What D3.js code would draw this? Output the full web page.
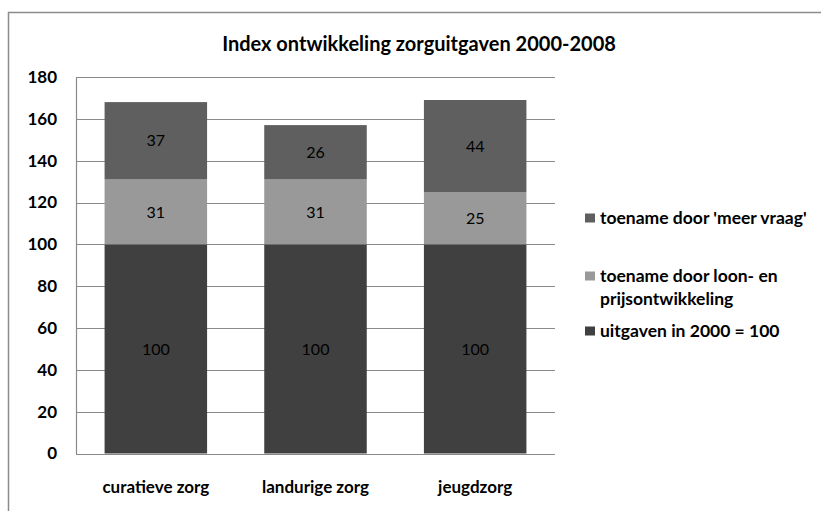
<!DOCTYPE html>
<html>
<head>
<meta charset="utf-8">
<script src="https://cdn.jsdelivr.net/npm/d3@7"></script>
<style>
  body { margin: 0; background: #fff; }
  text { font-family: Lato, "Open Sans", sans-serif; }
</style>
</head>
<body>
<div id="chart"></div>
<script>
// categories and stacked values (index 2000 = 100)
var categories = ["curatieve zorg", "landurige zorg", "jeugdzorg"];
var basis = [100, 100, 100];          // uitgaven in 2000 = 100
var loonPrijs = [31, 31, 25];         // toename door loon- en prijsontwikkeling
var meerVraag = [37, 26, 44];         // toename door 'meer vraag'
var yTicks = [0, 20, 40, 60, 80, 100, 120, 140, 160, 180];

var seriesNames = ["uitgaven in 2000 = 100", "toename door loon- en prijsontwikkeling", "toename door 'meer vraag'"];
var seriesColors = ["#404040", "#999999", "#5f5f5f"];

var width = 821, height = 511;
var margin = {top: 77, left: 76, right: 266, bottom: 56};

var svg = d3.select("#chart")
    .append("svg")
    .attr("width", width)
    .attr("height", height);

// outer frame of the chart
svg.append("rect")
    .attr("x", 8.5)
    .attr("y", 12.5)
    .attr("width", 830)
    .attr("height", 530)
    .attr("fill", "none")
    .attr("stroke", "#8c8c8c")
    .attr("stroke-width", 1.5);

svg.append("text")
    .attr("x", 419)
    .attr("y", 51)
    .attr("text-anchor", "middle")
    .attr("font-size", "20px")
    .attr("font-weight", "bold")
    .text("Index ontwikkeling zorguitgaven 2000-2008");

var x = d3.scaleBand()
    .domain(categories)
    .range([margin.left, width - margin.right])
    .paddingInner(0.358)
    .paddingOuter(0.179);

var y = d3.scaleLinear()
    .domain([0, 180])
    .range([height - margin.bottom - 1.5, margin.top]);

// gridlines
svg.append("g")
    .selectAll("line")
    .data(yTicks)
    .enter()
    .append("line")
    .attr("x1", margin.left)
    .attr("x2", width - margin.right)
    .attr("y1", function(d) { return Math.round(y(d)) + 0.5; })
    .attr("y2", function(d) { return Math.round(y(d)) + 0.5; })
    .attr("stroke", "#8a8a8a")
    .attr("stroke-width", 1.2);

var yAxis = svg.append("g")
    .attr("transform", "translate(" + margin.left + ",0)")
    .call(d3.axisLeft(y).tickValues(yTicks).tickSize(0).tickPadding(19));
yAxis.select(".domain").attr("stroke", "#8a8a8a").attr("stroke-width", 1.2);
yAxis.selectAll("text")
    .attr("font-family", "Lato, sans-serif")
    .attr("font-size", "17px")
    .attr("font-weight", "bold")
    .attr("fill", "#000");

var xAxis = svg.append("g")
    .attr("transform", "translate(0," + (height - margin.bottom) + ")")
    .call(d3.axisBottom(x).tickSize(0).tickPadding(26));
xAxis.select(".domain").remove();
xAxis.selectAll("text")
    .attr("font-family", "Lato, sans-serif")
    .attr("font-size", "17px")
    .attr("font-weight", "bold")
    .attr("fill", "#000");

// stacked data
var rows = categories.map(function(c, i) {
    return {cat: c, basis: basis[i], loon: loonPrijs[i], vraag: meerVraag[i]};
});
var stack = d3.stack().keys(["basis", "loon", "vraag"]);
var layers = stack(rows);

var g = svg.append("g")
    .selectAll("g")
    .data(layers)
    .enter()
    .append("g")
    .attr("fill", function(d, i) { return seriesColors[i]; });

g.selectAll("rect")
    .data(function(d) { return d; })
    .enter()
    .append("rect")
    .attr("x", function(d) { return x(d.data.cat); })
    .attr("width", x.bandwidth())
    .attr("y", function(d) { return y(d[1]); })
    .attr("height", function(d) { return y(d[0]) - y(d[1]); });

g.selectAll("text")
    .data(function(d) { return d; })
    .enter()
    .append("text")
    .attr("x", function(d) { return x(d.data.cat) + x.bandwidth() / 2; })
    .attr("y", function(d) { return y((d[0] + d[1]) / 2); })
    .attr("dy", "0.35em")
    .attr("text-anchor", "middle")
    .attr("font-size", "16px")
    .attr("fill", "#000")
    .text(function(d) { return d[1] - d[0]; });

// legend (top entry first)
var legendItems = [
    {lines: ["toename door 'meer vraag'"], color: seriesColors[2], y: 218},
    {lines: ["toename door loon- en", "prijsontwikkeling"], color: seriesColors[1], y: 276},
    {lines: ["uitgaven in 2000 = 100"], color: seriesColors[0], y: 331}
];
var legend = svg.append("g");
legendItems.forEach(function(item) {
    legend.append("rect")
        .attr("x", 585)
        .attr("y", item.y - 4.5)
        .attr("width", 10)
        .attr("height", 9)
        .attr("fill", item.color);
    item.lines.forEach(function(l, j) {
        legend.append("text")
            .attr("x", 600)
            .attr("y", item.y + j * 23)
            .attr("dy", "0.35em")
            .attr("font-size", "17.5px")
            .attr("font-weight", "bold")
            .text(l);
    });
});
</script>
</body>
</html>
